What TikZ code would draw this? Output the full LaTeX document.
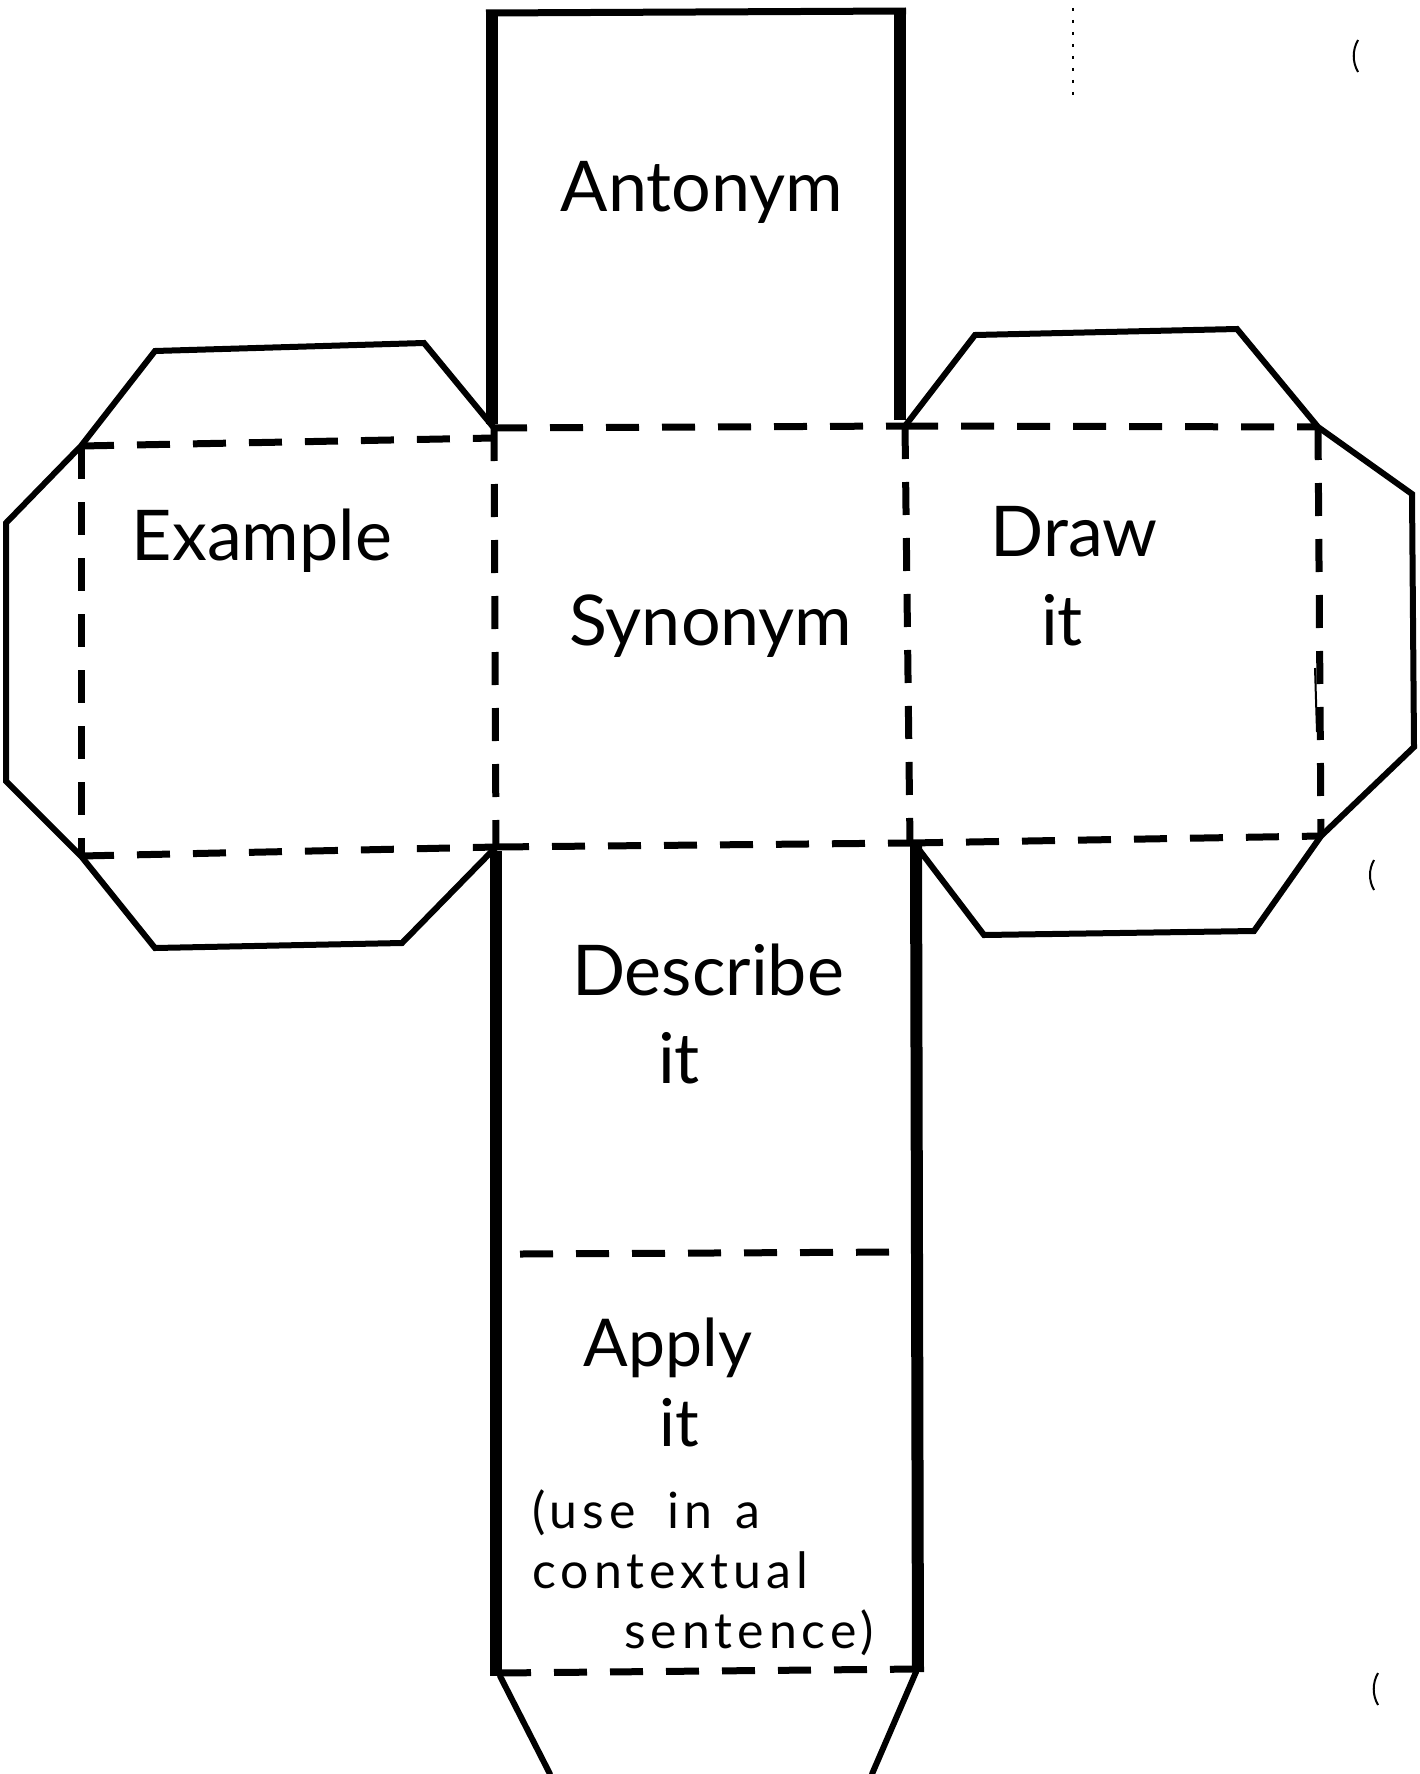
\documentclass[tikz,border=0pt]{standalone}
\usepackage{fontspec}
\setmainfont{Lato}
\begin{document}
\begin{tikzpicture}[x=1pt,y=-1pt,
  cutline/.style={line width=6pt, line join=miter, line cap=round},
  strip/.style={line width=12pt},
  fold/.style={line width=7pt, dash pattern=on 33pt off 23pt},
  word/.style={font=\fontsize{70}{76}\selectfont, inner sep=0pt},
  scribble/.style={line width=2pt}]
\useasboundingbox (0,0) rectangle (1420,1774);
\fill[white] (0,0) rectangle (1420,1774);

% corners of the central face
\coordinate (A) at (494,428);
\coordinate (B) at (905,426);
\coordinate (C) at (910,843);
\coordinate (D) at (496,847);
% corners of the side faces
\coordinate (LT) at (81,446);
\coordinate (LTi) at (494,438);
\coordinate (LB) at (81,856);
\coordinate (RT) at (1318,427);
\coordinate (RB) at (1321,836);

% top face: thick sides and a thin top edge
\draw[strip] (492,424) -- (492,11);
\draw[strip] (900,420) -- (900,9);
\draw[line width=7pt] (486,13) -- (906,11);

% fold lines of the central face
\draw[fold] (A) -- (B);
\draw[fold] (A) -- (D);
\draw[fold] (B) -- (C);
\draw[fold] (D) -- (C);

% left face and its octagonal flap
\draw[fold] (LT) -- (LTi);
\draw[fold] (LT) -- (LB);
\draw[fold] (LB) -- (D);
\draw[cutline] (A) -- (424,343) -- (155,351) -- (LT) -- (6,523) -- (6,781)
  -- (LB) -- (155,948) -- (402,943) -- (D);

% right face and its octagonal flap
\draw[fold] (B) -- (RT);
\draw[fold] (RT) -- (RB);
\draw[fold] (C) -- (RB);
\draw[cutline] (B) -- (975,335) -- (1237,329) -- (RT) -- (1412,494) -- (1414,747)
  -- (RB) -- (1254,931) -- (984,935) -- (914,843);
\draw[scribble] (1315,668) -- (1317,732);

% bottom strip: two faces and the closing tab
\draw[strip] (496,851) -- (496,1676);
\draw[strip] (916,846) -- (918,1672);
\draw[fold] (520,1254) -- (902,1252);
\draw[fold] (498,1673) -- (918,1669);
\draw[cutline] (500,1676) -- (550,1774);
\draw[cutline] (916,1672) -- (872,1774);

% small marks along the right margin (each arc starts at its lower end)
\draw[scribble] (1358,72) arc (150:210:32);
\draw[scribble] (1374,890) arc (150:210:30);
\draw[scribble] (1378,1705) arc (150:210:32);
\draw[line width=1.5pt, dash pattern=on 3pt off 9pt] (1073,8) -- (1073,102);

% face labels
\node[word] (antonym)  at (702,192)  {Antonym};
\node[word] (example)  at (262,541)  {Example};
\node[word] (synonym)  at (711,626)  {Synonym};
\node[word] (draw)     at (1074,532) {Draw};
\node[word] (drawit)   at (1062,620) {it};
\node[word] (describe) at (708,970)  {Describe};
\node[word] (descit)   at (679,1058) {it};
\node[word, align=center, font=\fontsize{66}{80}\selectfont, anchor=north]
  (apply) at (668,1318) {Apply\\\hspace*{22pt}it};
\node[font=\fontsize{50}{60}\selectfont\addfontfeature{LetterSpace=10},
      inner sep=0pt, align=left, anchor=north west] (usage) at (532,1490)
  {(use\hspace{14pt} in\hspace{6pt} a\\contextual\\\hspace*{92pt}sentence)};
\end{tikzpicture}
\end{document}
